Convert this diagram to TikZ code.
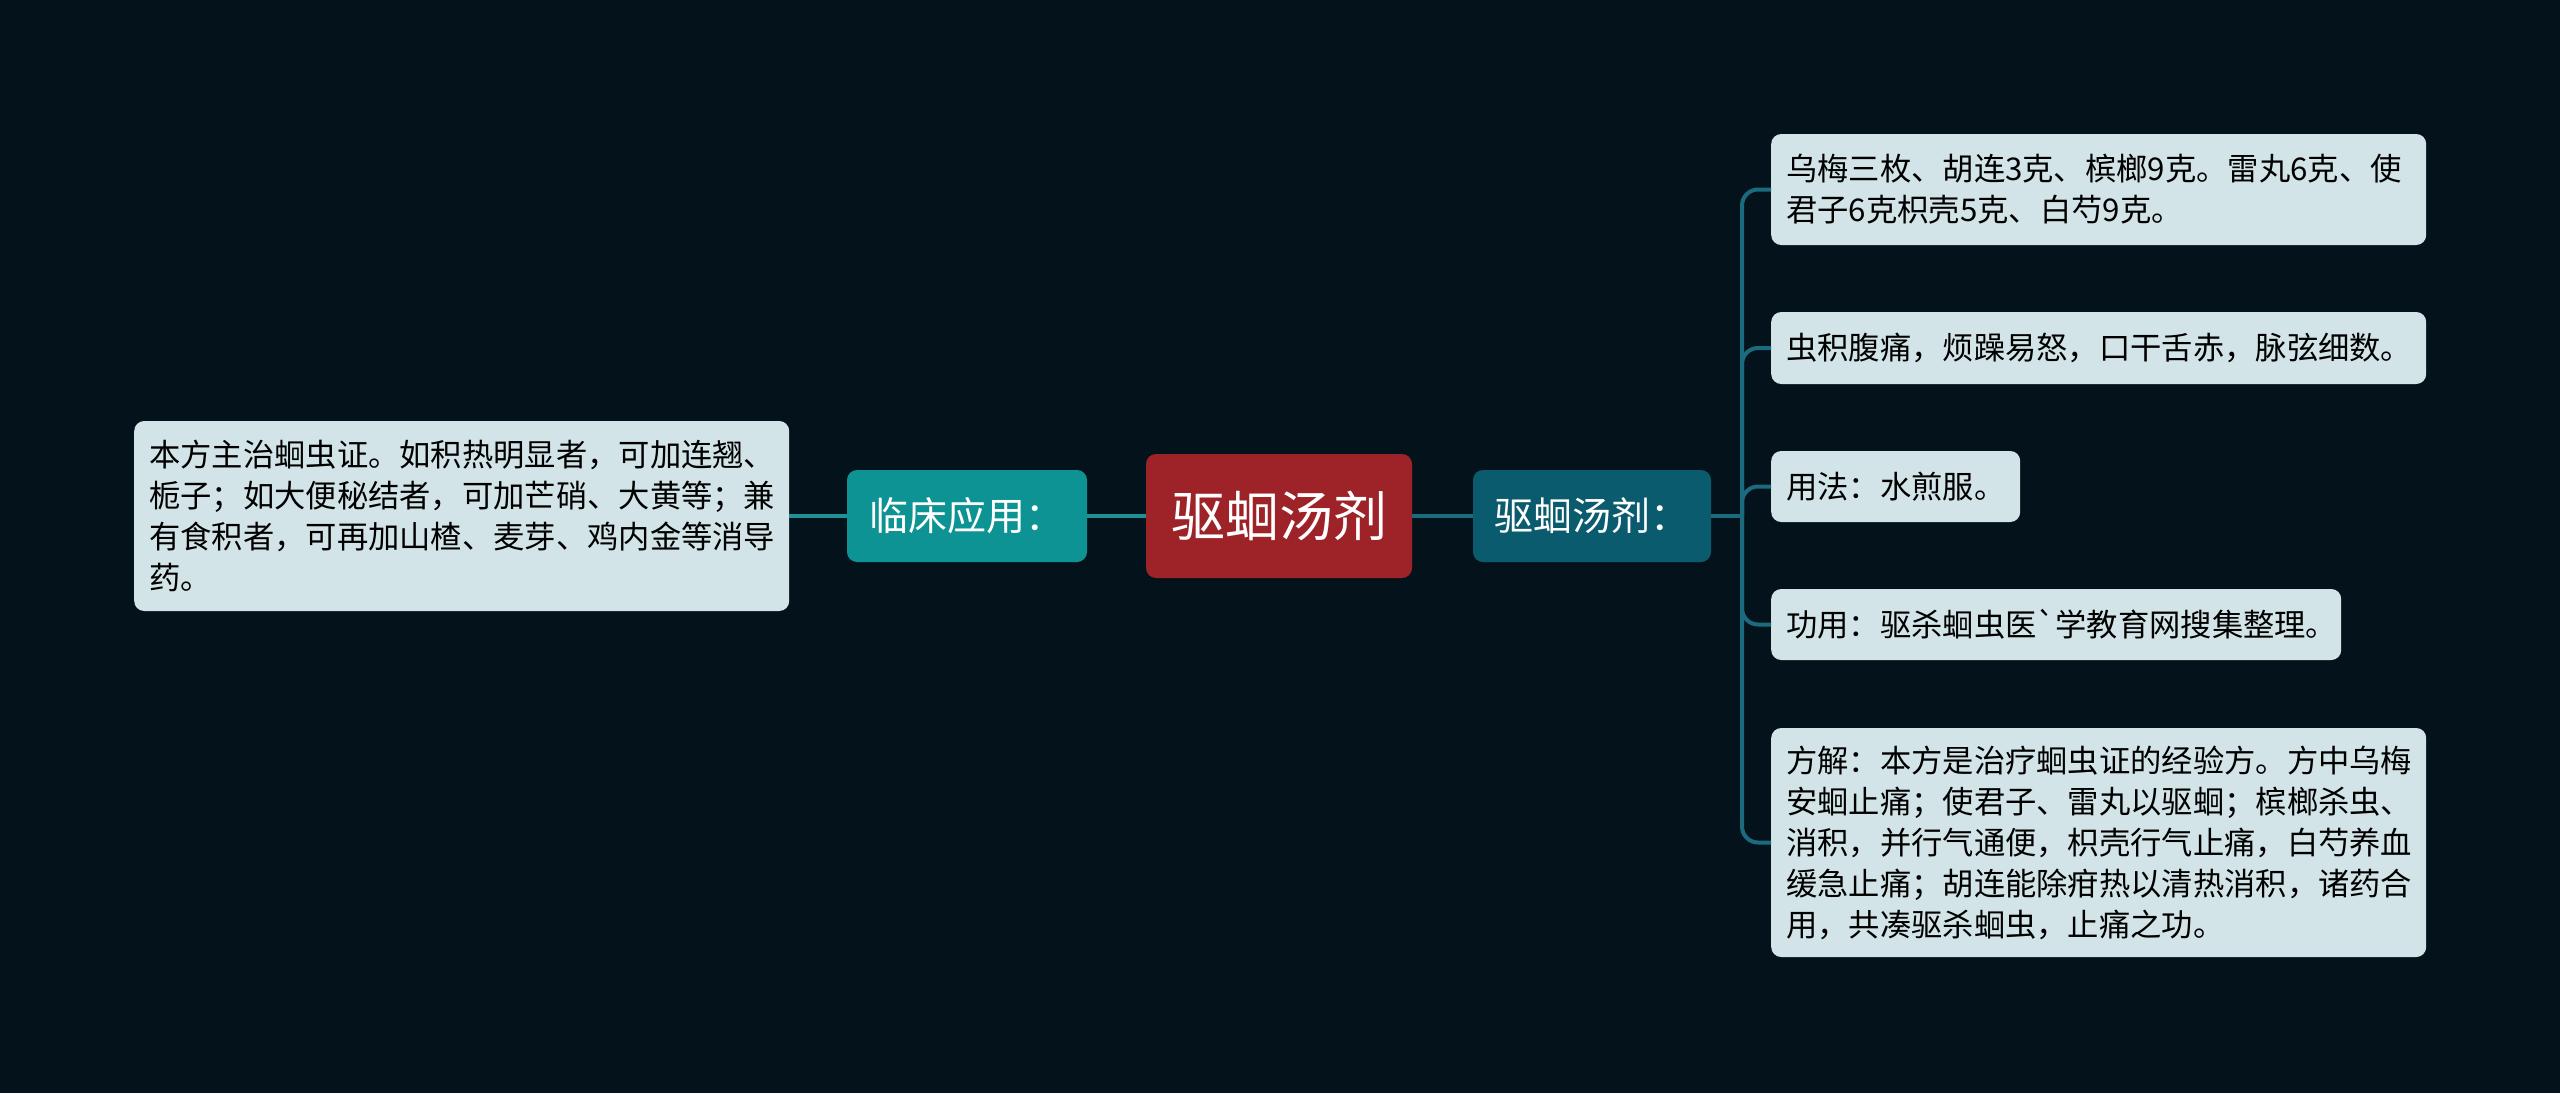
\documentclass[tikz,border=0pt]{standalone}
\usepackage{fontspec}
\setmainfont{Noto Sans CJK SC}
\newfontfamily\plainfnt{Noto Sans CJK SC}
\definecolor{bg}{HTML}{04121B}
\definecolor{rootc}{HTML}{9E2329}
\definecolor{leftc}{HTML}{0E9394}
\definecolor{rightc}{HTML}{0A5B6E}
\definecolor{leafc}{HTML}{D2E4E7}
\definecolor{lineL}{HTML}{1E9294}
\definecolor{lineR}{HTML}{1A6B7D}
\tikzset{
  rootbox/.style={fill=rootc, rounded corners=10pt, minimum width=266pt, minimum height=124pt, inner sep=0pt, text=white, font=\fontsize{54}{64}\selectfont},
  midbox/.style={rounded corners=10pt, minimum width=240pt, minimum height=92pt, inner sep=0pt, text=white, font=\fontsize{39}{46}\selectfont},
  leafbox/.style={fill=leafc, rounded corners=10pt, inner xsep=15pt, inner ysep=0pt, align=left, text=black, font=\fontsize{31.3}{41}\selectfont, anchor=west},
  conn/.style={line width=4pt},
}
\begin{document}
\begin{tikzpicture}[x=1pt,y=-1pt]
\fill[bg] (0,0) rectangle (2560,1093);
\useasboundingbox (0,0) rectangle (2560,1093);

\node[rootbox] (root) at (1279,516) {驱蛔汤剂};
\node[midbox, fill=leftc] (lm) at (967,516) {临床应用：};
\node[midbox, fill=rightc, minimum width=238pt] (rm) at (1592,516) {驱蛔汤剂：};

\node[leafbox, text width=625pt, minimum height=190pt] (ll) at (134,516) {本方主治蛔虫证。如积热明显者，可加连翘、\\栀子；如大便秘结者，可加芒硝、大黄等；兼\\有食积者，可再加山楂、麦芽、鸡内金等消导\\药。};

\node[leafbox, text width=625pt, minimum height=111pt] (r1) at (1771,189.5) {乌梅三枚、胡连3克、槟榔9克。雷丸6克、使\\君子6克枳壳5克、白芍9克。};
\node[leafbox, text width=625pt, minimum height=72pt] (r2) at (1771,348) {虫积腹痛，烦躁易怒，口干舌赤，脉弦细数。};
\node[leafbox, text width=219pt, minimum height=71pt] (r3) at (1771,486.5) {用法：水煎服。};
\node[leafbox, text width=540pt, minimum height=71pt] (r4) at (1771,624.5) {功用：驱杀蛔虫医{\plainfnt`}学教育网搜集整理。};
\node[leafbox, text width=625pt, minimum height=229pt] (r5) at (1771,842.5) {方解：本方是治疗蛔虫证的经验方。方中乌梅\\安蛔止痛；使君子、雷丸以驱蛔；槟榔杀虫、\\消积，并行气通便，枳壳行气止痛，白芍养血\\缓急止痛；胡连能除疳热以清热消积，诸药合\\用，共凑驱杀蛔虫，止痛之功。};

\draw[conn, lineL] (root.west) -- (lm.east);
\draw[conn, lineL] (lm.west) -- (ll.east);
\draw[conn, lineR] (root.east) -- (rm.west);
\coordinate (tr) at (1742,516);
\draw[conn, lineR] (rm.east) -- (tr);
\foreach \n in {r1,r2,r3,r4,r5}{
  \draw[conn, lineR, rounded corners=16pt] (tr) |- (\n.west);
}
\end{tikzpicture}
\end{document}
